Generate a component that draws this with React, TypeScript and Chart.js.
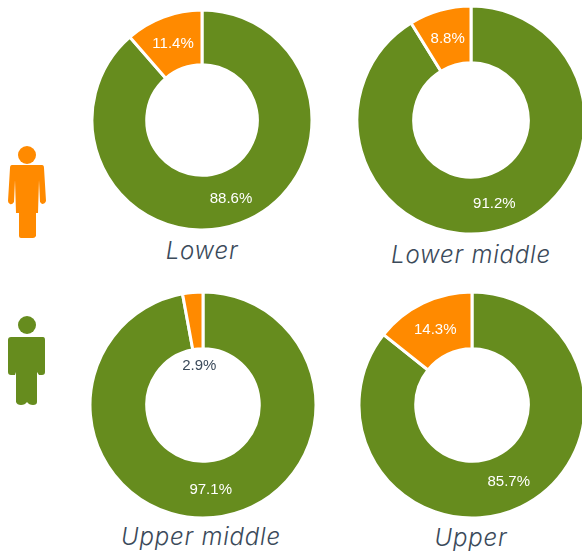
import React, { useEffect, useRef } from "react";
import { Chart, registerables } from "chart.js";

Chart.register(...registerables);

const categories = ["Male", "Female"];
const lowerValues = [88.6, 11.4];
const lowerMiddleValues = [91.2, 8.8];
const upperMiddleValues = [97.1, 2.9];
const upperValues = [85.7, 14.3];
const GREEN = "#668c1e";
const ORANGE = "#ff8a00";
const TITLE = "#3b4a5a";

const labelPlugin = {
  id: "sliceLabels",
  afterDatasetsDraw(chart: any) {
    const { ctx } = chart;
    const meta = chart.getDatasetMeta(0);
    const values = chart.data.datasets[0].data as number[];
    ctx.save();
    ctx.font = '15px "Liberation Sans", Arial, sans-serif';
    ctx.textAlign = "center";
    ctx.textBaseline = "middle";
    meta.data.forEach((arc: any, i: number) => {
      const v = values[i];
      const small = v < 5;
      const mid = (arc.startAngle + arc.endAngle) / 2;
      const r = small ? arc.innerRadius * 0.72 : (arc.innerRadius + arc.outerRadius) / 2;
      ctx.fillStyle = small ? TITLE : "#ffffff";
      ctx.fillText(v.toFixed(1) + "%", arc.x + Math.cos(mid) * r, arc.y + Math.sin(mid) * r + 1);
    });
    ctx.restore();
  },
};

function Donut({ values, cx, cy, r, hole }: { values: number[]; cx: number; cy: number; r: number; hole: number }) {
  const ref = useRef<HTMLCanvasElement>(null);
  useEffect(() => {
    const chart = new Chart(ref.current!, {
      type: "doughnut",
      data: {
        labels: categories,
        datasets: [{ data: values, backgroundColor: [GREEN, ORANGE], borderColor: "#ffffff", borderWidth: 3 }],
      },
      options: {
        responsive: false,
        animation: false,
        cutout: hole,
        radius: r,
        layout: { padding: 0 },
        plugins: { legend: { display: false }, tooltip: { enabled: false } },
      } as any,
      plugins: [labelPlugin],
    });
    return () => chart.destroy();
  }, []);
  const size = 2 * r + 6;
  return (
    <canvas
      ref={ref}
      width={size}
      height={size}
      style={{ position: "absolute", left: cx - size / 2, top: cy - size / 2, width: size, height: size }}
    />
  );
}

function Title({ text, cx, y }: { text: string; cx: number; y: number }) {
  return (
    <div
      style={{
        position: "absolute",
        left: cx - 120,
        width: 240,
        top: y,
        textAlign: "center",
        fontFamily: "Inter, sans-serif",
        fontStyle: "italic",
        fontWeight: 300,
        fontSize: 24,
        letterSpacing: 0.8,
        lineHeight: "30px",
        color: TITLE,
      }}
    >
      {text}
    </div>
  );
}

function Woman() {
  return (
    <svg style={{ position: "absolute", left: 0, top: 130 }} width={60} height={120} viewBox="0 130 60 120" fill={ORANGE}>
      <circle cx={27} cy={155} r={9} />
      <path d="M12 165 H42 Q44 165 44 168 L46 201 Q45 204 42 204 L40 202 L39 180 L38 213 H36 V236 Q35 238 33 238 H21 Q19 238 19 236 V213 H16 L15 180 L14 202 Q12 205 10 204 Q8 203 8 201 L10 168 Q10 165 12 165 Z" />
    </svg>
  );
}

function Man() {
  return (
    <svg style={{ position: "absolute", left: 0, top: 300 }} width={60} height={120} viewBox="0 300 60 120" fill={GREEN}>
      <circle cx={27} cy={325} r={9} />
      <path d="M11 337 H43 Q45 337 45 340 V372 Q45 375 42 375 H39 L37 372 V402 Q37 405 33 405 Q29 405 27 402 Q25 405 21 405 Q17 405 16 402 V372 L15 375 H11 Q8 375 8 372 V340 Q8 337 11 337 Z" />
    </svg>
  );
}

export default function App() {
  return (
    <div style={{ position: "absolute", left: 0, top: 0, width: 582, height: 551, overflow: "hidden", background: "#fff" }}>
      <Woman />
      <Man />
      <Donut values={lowerValues} cx={202} cy={120} r={110} hole={56} />
      <Donut values={lowerMiddleValues} cx={471} cy={120} r={114} hole={58} />
      <Donut values={upperMiddleValues} cx={203} cy={405} r={113} hole={57} />
      <Donut values={upperValues} cx={472} cy={405} r={113} hole={57} />
      <Title text="Lower" cx={202} y={236} />
      <Title text="Lower middle" cx={471} y={240} />
      <Title text="Upper middle" cx={201} y={522} />
      <Title text="Upper" cx={471} y={523} />
    </div>
  );
}
